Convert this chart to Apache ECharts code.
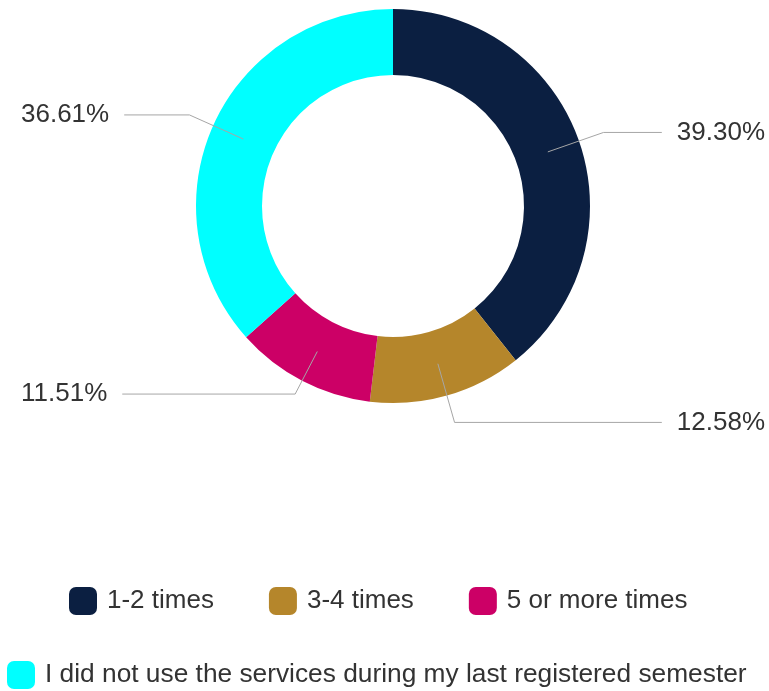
<!DOCTYPE html>
<html>
<head>
<meta charset="utf-8">
<script src="https://cdn.jsdelivr.net/npm/echarts@6/dist/echarts.min.js"></script>
<style>
  html, body { margin: 0; padding: 0; background: #ffffff; }
  #chart { width: 769px; height: 691px; }
</style>
</head>
<body>
<div id="chart"></div>
<script>
// Share of respondents by how often they used the services
const categories = [
  '1-2 times',
  '3-4 times',
  '5 or more times',
  'I did not use the services during my last registered semester'
];
const shares = [39.30, 12.58, 11.51, 36.61];
const colors = ['#0b1f41', '#b5862b', '#cc0066', '#00ffff'];
// first leg of each leader line, from mid-ring outwards
const leaderLengths = [59, 61, 48, 59];

const FONT = '"Liberation Sans", Arial, sans-serif';
const TEXT = '#333333';

const pieData = categories.map((name, i) => ({
  name: name,
  value: shares[i],
  itemStyle: { color: colors[i] }
}));

const chart = echarts.init(document.getElementById('chart'), null, { renderer: 'canvas' });

chart.setOption({
  animation: false,
  backgroundColor: '#ffffff',
  legend: [
    {
      data: categories.slice(0, 3),
      top: 582,
      left: 64,
      icon: 'roundRect',
      itemWidth: 28,
      itemHeight: 28,
      itemGap: 55,
      selectedMode: false,
      textStyle: { fontFamily: FONT, fontSize: 26, color: TEXT, padding: [0, 0, 0, 5] }
    },
    {
      data: categories.slice(3),
      top: 656,
      left: 2,
      icon: 'roundRect',
      itemWidth: 28,
      itemHeight: 28,
      selectedMode: false,
      textStyle: { fontFamily: FONT, fontSize: 26.3, color: TEXT, padding: [0, 0, 0, 5] }
    }
  ],
  series: [
    {
      // the ring itself
      type: 'pie',
      left: 0, top: 0, width: 786, height: 691,
      center: [393, 206],
      radius: [131, 197],
      startAngle: 90,
      clockwise: true,
      silent: true,
      label: { show: false },
      labelLine: { show: false },
      data: pieData
    },
    {
      // transparent copy whose outer edge sits mid-ring, carrying the percentage labels
      type: 'pie',
      left: 0, top: 0, width: 786, height: 691,
      center: [393, 206],
      radius: [131, 164],
      startAngle: 90,
      clockwise: true,
      silent: true,
      z: 5,
      itemStyle: { color: 'rgba(0,0,0,0)' },
      label: {
        show: true,
        position: 'outer',
        alignTo: 'edge',
        edgeDistance: 21,
        distanceToLabelLine: 15,
        fontFamily: FONT,
        fontSize: 26,
        color: TEXT,
        formatter: (p) => p.value.toFixed(2) + '%'
      },
      labelLine: {
        show: true,
        length: 59,
        length2: 20,
        lineStyle: { color: '#a6a6a6', width: 1 }
      },
      data: categories.map((name, i) => ({
        name: name,
        value: shares[i],
        labelLine: { length: leaderLengths[i] }
      }))
    }
  ]
});
</script>
</body>
</html>
